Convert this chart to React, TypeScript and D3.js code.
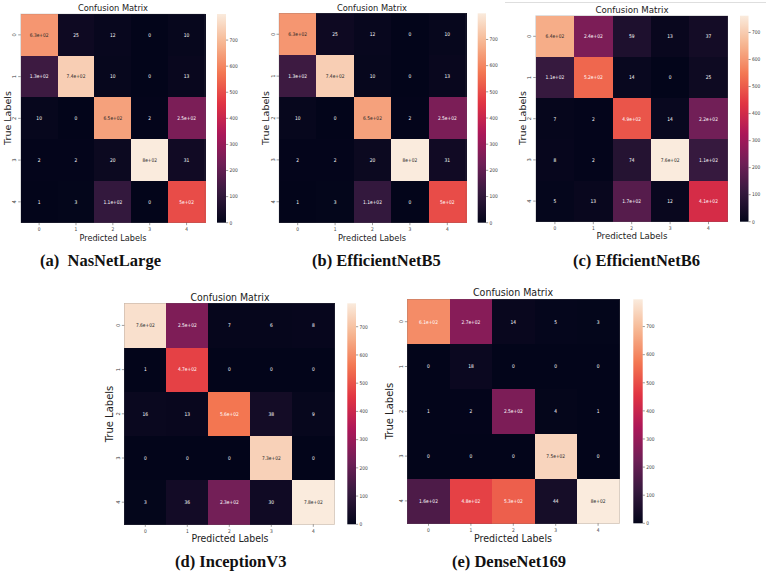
import React from "react";
import * as d3 from "d3";

const classes = ["0", "1", "2", "3", "4"];
const cbTicks = [0, 100, 200, 300, 400, 500, 600, 700];

const nasNetLarge = [
  [630, 25, 12, 0, 10],
  [130, 740, 10, 0, 13],
  [10, 0, 650, 2, 250],
  [2, 2, 20, 800, 31],
  [1, 3, 110, 0, 500],
];
const efficientNetB5 = [
  [630, 25, 12, 0, 10],
  [130, 740, 10, 0, 13],
  [10, 0, 650, 2, 250],
  [2, 2, 20, 800, 31],
  [1, 3, 110, 0, 500],
];
const efficientNetB6 = [
  [640, 240, 59, 13, 37],
  [110, 520, 14, 0, 25],
  [7, 2, 490, 14, 220],
  [8, 2, 74, 762, 110],
  [5, 13, 170, 12, 410],
];
const inceptionV3 = [
  [760, 250, 7, 6, 8],
  [1, 470, 0, 0, 0],
  [16, 13, 560, 38, 9],
  [0, 0, 0, 730, 0],
  [3, 36, 230, 30, 783],
];
const denseNet169 = [
  [610, 270, 14, 5, 3],
  [0, 18, 0, 0, 0],
  [1, 2, 250, 4, 1],
  [0, 0, 0, 750, 0],
  [160, 480, 530, 44, 797],
];

const captions = ["(a)  NasNetLarge", "(b) EfficientNetB5", "(c) EfficientNetB6", "(d) InceptionV3", "(e) DenseNet169"];

const rocketStops = ["#03051a", "#35193e", "#701f57", "#ad1759", "#e13342", "#f37651", "#f6b48f", "#faebdd"];
const rocket = d3
  .scaleLinear<string>()
  .domain(rocketStops.map((_, i) => i / (rocketStops.length - 1)))
  .range(rocketStops)
  .interpolate(d3.interpolateRgb)
  .clamp(true);

function fmt2g(v: number): string {
  if (v === 0) return "0";
  const s = v.toExponential(1);
  const [m0, ex] = s.split("e");
  const exn = parseInt(ex, 10);
  if (exn < 2 && exn >= -4) return String(+v.toPrecision(2));
  const m = m0.replace(/\.0$/, "");
  return m + "e" + (exn < 0 ? "-" : "+") + String(Math.abs(exn)).padStart(2, "0");
}

function luminance(c: string): number {
  const rgb = d3.rgb(c);
  const lin = (x: number) => {
    const v = x / 255;
    return v <= 0.03928 ? v / 12.92 : Math.pow((v + 0.055) / 1.055, 2.4);
  };
  return 0.2126 * lin(rgb.r) + 0.7152 * lin(rgb.g) + 0.0722 * lin(rgb.b);
}

type Cfg = {
  id: string;
  data: number[][];
  hm: [number, number, number, number];
  cb: [number, number];
  title: [number, number, number];
  xlab: [number, number, number];
  ylab: [number, number];
  fs: number;
  caption: string;
  cap: [number, number];
};

const panels: Cfg[] = [
  { id: "a", data: nasNetLarge, hm: [20.7, 205, 14, 222.7], cb: [217, 226], title: [113, 11, 70], xlab: [113, 241, 67], ylab: [10.5, 118], fs: 9.5, caption: captions[0], cap: [40, 266] },
  { id: "b", data: efficientNetB5, hm: [279, 466, 13.3, 222.7], cb: [477.7, 486], title: [372, 10.5, 70], xlab: [372, 241, 68], ylab: [269, 118], fs: 9.5, caption: captions[1], cap: [312, 266] },
  { id: "c", data: efficientNetB6, hm: [535.7, 727.7, 15.7, 221.7], cb: [740, 748.5], title: [632, 12.7, 73], xlab: [632, 239, 71], ylab: [526, 118], fs: 9.5, caption: captions[2], cap: [573, 266] },
  { id: "d", data: inceptionV3, hm: [124.3, 334.3, 303.3, 524.3], cb: [347.3, 356], title: [230, 300.5, 79], xlab: [230, 541.5, 77], ylab: [113, 414], fs: 10, caption: captions[3], cap: [175, 567] },
  { id: "e", data: denseNet169, hm: [407.3, 619.3, 299.3, 523.3], cb: [633.3, 642.7], title: [513, 296, 80], xlab: [513, 541.5, 78], ylab: [393, 411], fs: 10, caption: captions[4], cap: [452, 567] },
];

const SQ = 0.84;
const tickColor = "#3a3a3a";

function Panel({ cfg }: { cfg: Cfg }) {
  const [x0, x1, y0, y1] = cfg.hm;
  const vmax = d3.max(cfg.data.flat()) as number;
  const vmin = Math.min(0, d3.min(cfg.data.flat()) as number);
  const xs = d3.scaleBand<string>().domain(classes).range([x0, x1]);
  const ys = d3.scaleBand<string>().domain(classes).range([y0, y1]);
  const cy = d3.scaleLinear().domain([vmin, vmax]).range([y1, y0]);
  const color = (v: number) => rocket((v - vmin) / (vmax - vmin));
  const gid = "grad-" + cfg.id;
  const stops = d3.range(0, 1.0001, 0.02);
  const [cbx0, cbx1] = cfg.cb;
  return (
    <g>
      <defs>
        <linearGradient id={gid} x1="0" y1="1" x2="0" y2="0">
          {stops.map((t, i) => (
            <stop key={i} offset={t} stopColor={rocket(t)} />
          ))}
        </linearGradient>
      </defs>
      {cfg.data.map((row, r) =>
        row.map((v, c) => (
          <rect
            key={"r" + r + "-" + c}
            x={xs(classes[c])}
            y={ys(classes[r])}
            width={xs.bandwidth() + 0.5}
            height={ys.bandwidth() + 0.5}
            fill={color(v)}
            shapeRendering="crispEdges"
          />
        ))
      )}
      {cfg.data.map((row, r) =>
        row.map((v, c) => {
          const fill = color(v);
          const tx = (xs(classes[c]) as number) + xs.bandwidth() / 2;
          const ty = (ys(classes[r]) as number) + ys.bandwidth() / 2;
          return (
            <text
              key={"t" + r + "-" + c}
              transform={`translate(${tx},${ty}) scale(${SQ},1)`}
              textAnchor="middle"
              dy="0.35em"
              fontSize={5.2}
              fontFamily="DejaVu Sans"
              fill={luminance(fill) > 0.408 ? "#262626" : "#ffffff"}
            >
              {fmt2g(v)}
            </text>
          );
        })
      )}
      <rect x={x0} y={y0} width={x1 - x0} height={y1 - y0} fill="none" stroke="#666" strokeOpacity={0.35} strokeWidth={0.6} />
      {classes.map((k) => {
        const x = (xs(k) as number) + xs.bandwidth() / 2;
        return (
          <g key={"xt" + k}>
            <line x1={x} x2={x} y1={y1} y2={y1 + 2.5} stroke={tickColor} strokeWidth={0.5} />
            <text transform={`translate(${x},${y1 + 8.2}) scale(${SQ},1)`} textAnchor="middle" fontSize={5.2} fontFamily="DejaVu Sans" fill={tickColor}>
              {k}
            </text>
          </g>
        );
      })}
      {classes.map((k) => {
        const y = (ys(k) as number) + ys.bandwidth() / 2;
        return (
          <g key={"yt" + k}>
            <line x1={x0 - 2.5} x2={x0} y1={y} y2={y} stroke={tickColor} strokeWidth={0.5} />
            <text transform={`translate(${x0 - 4.5},${y}) rotate(-90)`} textAnchor="middle" fontSize={5.2} fontFamily="DejaVu Sans" fill={tickColor}>
              {k}
            </text>
          </g>
        );
      })}
      <rect x={cbx0} y={y0} width={cbx1 - cbx0} height={y1 - y0} fill={`url(#${gid})`} />
      {cbTicks.map((t) => (
        <g key={"cb" + t}>
          <line x1={cbx1} x2={cbx1 + 2.2} y1={cy(t)} y2={cy(t)} stroke={tickColor} strokeWidth={0.5} />
          <text transform={`translate(${cbx1 + 3.5},${cy(t)}) scale(${SQ},1)`} dy="0.35em" fontSize={5.2} fontFamily="DejaVu Sans" fill={tickColor}>
            {t}
          </text>
        </g>
      ))}
      <text x={cfg.title[0]} y={cfg.title[1]} textAnchor="middle" fontSize={cfg.fs} fontFamily="DejaVu Sans" fill="#222" textLength={cfg.title[2]} lengthAdjust="spacingAndGlyphs">
        Confusion Matrix
      </text>
      <text x={cfg.xlab[0]} y={cfg.xlab[1]} textAnchor="middle" fontSize={cfg.fs} fontFamily="DejaVu Sans" fill="#222" textLength={cfg.xlab[2]} lengthAdjust="spacingAndGlyphs">
        Predicted Labels
      </text>
      <text transform={`translate(${cfg.ylab[0]},${cfg.ylab[1]}) rotate(-90)`} textAnchor="middle" fontSize={cfg.fs} fontFamily="DejaVu Sans" fill="#222">
        True Labels
      </text>
      <text x={cfg.cap[0]} y={cfg.cap[1]} fontSize={16.5} fontWeight="bold" fontFamily="Liberation Serif" fill="#111" style={{ whiteSpace: "pre" }}>
        {cfg.caption}
      </text>
    </g>
  );
}

export default function App() {
  return (
    <svg width={766} height={573} style={{ position: "absolute", left: 0, top: 0, background: "#fff" }}>
      <rect x={0} y={0} width={766} height={573} fill="#ffffff" />
      <line x1={505} x2={766} y1={2.5} y2={2.5} stroke="#dedede" strokeWidth={1} />
      {panels.map((p) => (
        <Panel key={p.id} cfg={p} />
      ))}
    </svg>
  );
}
